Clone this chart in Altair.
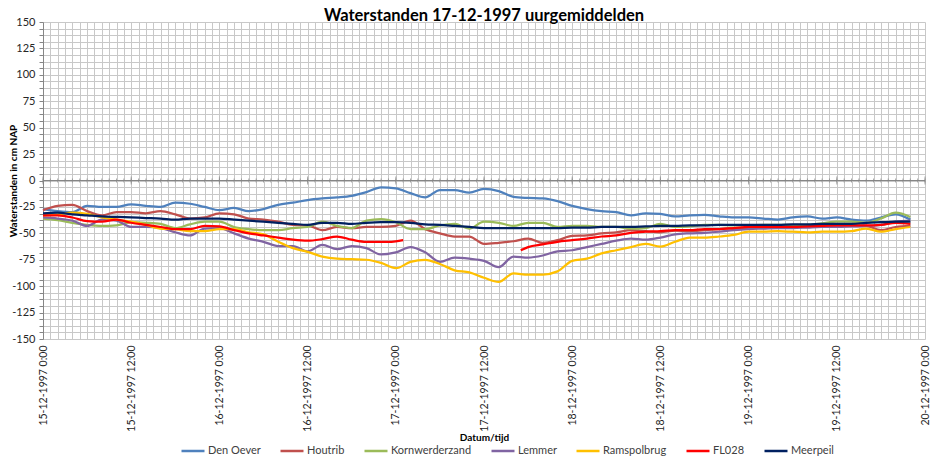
import json
import pandas as pd
import altair as alt

# ---------------- data ----------------
TITLE = "Waterstanden 17-12-1997 uurgemiddelden"
HOURS = list(range(0, 120, 2))  # hours since 15-12-1997 0:00

SERIES = ["Den Oever", "Houtrib", "Kornwerderzand", "Lemmer", "Ramspolbrug", "FL028", "Meerpeil"]
COLORS = ["#4F81BD", "#C0504D", "#9BBB59", "#8064A2", "#FFC000", "#FF0000", "#002060"]

DEN_OEVER = [-27, -29, -30, -24, -25, -25, -22.5, -24, -25, -21,
             -22, -25, -28, -26, -29, -27, -23, -21, -18.5, -17,
             -16, -14.5, -11, -6.5, -7.5, -12, -16, -9, -9, -11.5,
             -8, -10, -15.5, -16.5, -17, -19.5, -24, -27, -29, -30,
             -33, -31, -31.5, -34, -33, -32.5, -34, -35, -35, -36,
             -37, -35, -34, -36, -35, -37, -38, -35, -32, -37]

HOUTRIB = [-28, -24, -23, -29, -33, -30, -30, -31, -29, -32,
           -36, -35, -31, -32, -36, -37, -39, -42, -42.5, -47,
           -44, -45, -44, -44, -43, -38, -46, -50, -53, -53,
           -60, -59, -57.5, -55, -59, -56.5, -52.5, -52, -50, -49,
           -47, -48, -49, -47.5, -48, -47, -46, -45, -45, -44,
           -44, -44, -43.5, -43, -42.5, -42.5, -43, -47, -44, -43]

KORNWERDERZAND = [-36, -37.5, -40, -42, -43, -42.5, -39.5, -40, -41, -45,
                  -41.5, -39, -39, -44, -46, -47, -47, -45, -44, -39,
                  -43, -45, -38, -36.5, -39.5, -46, -46, -42.5, -41, -45.5,
                  -39, -40, -43, -40, -40, -44, -43, -43, -44, -44,
                  -45.5, -45, -41, -44, -43.5, -42, -42, -42.5, -42.5, -42,
                  -42, -42, -42, -40.5, -39, -39, -40, -36, -30.5, -34.5]

LEMMER = [-35, -36, -38, -43, -37, -38, -44, -44, -45, -49,
          -52, -45.5, -45, -50, -55, -58, -62, -62, -67, -61,
          -65, -62, -64, -70, -68, -63, -68, -77, -73, -74,
          -76, -82, -72, -73, -71, -67, -66, -63, -60, -57,
          -55, -56, -54, -51, -50, -49.5, -48.5, -47, -46, -45.5,
          -45, -45, -44.5, -44, -44, -43.5, -43, -42, -39, -38]

RAMSPOLBRUG = [-33, -32, -30.5, -31.5, -35, -37, -39, -42, -45.5, -46,
               -48, -48, -46, -46, -49, -51, -58, -64, -67.5, -72,
               -74, -74.5, -75, -78, -83, -77, -75, -79, -85, -87,
               -92, -96, -88, -89, -89, -86, -76, -74, -69, -66,
               -63, -60, -62.5, -58, -54, -54, -53, -51.5, -48.5, -48.5,
               -48, -48.5, -49, -48.5, -48.5, -48, -45.5, -48.5, -46, -44]

# FL028 has missing hours (gaps in the line)
FL028_HOURS = (list(range(0, 45, 2)) + [47, 48, 49] + [65] + list(range(66, 120, 2)))
FL028 = [-33, -33, -35, -38.5, -39, -37, -40, -42, -44, -46,
         -46, -43, -43.5, -47, -50, -52, -54, -56, -57, -55.5,
         -53, -56, -58,
         -58, -57.5, -56.5,
         -66, -63, -60.5, -58, -56.5, -55, -53, -52, -49.5, -48.5,
         -48, -47, -47, -46, -46, -45, -44, -44, -44, -44,
         -43.5, -43, -42.5, -42.5, -42.5, -42, -40, -41]

MEERPEIL = [-31, -30.5, -32, -33, -34, -34.5, -35, -35.5, -36, -37,
            -36, -36, -36, -37, -38, -39, -40, -41, -42, -40,
            -40, -41, -40, -39.5, -39.5, -40, -41.5, -42, -43, -44,
            -45, -45, -45, -45, -45, -45, -44.5, -44.5, -44, -44,
            -44, -43.5, -43, -43, -42.5, -42.5, -42, -42, -42, -42,
            -42, -41.5, -41.5, -41, -41, -41, -40, -39.5, -39, -39]

TICK_LABELS = ["15-12-1997 0:00", "15-12-1997 12:00", "16-12-1997 0:00", "16-12-1997 12:00",
               "17-12-1997 0:00", "17-12-1997 12:00", "18-12-1997 0:00", "18-12-1997 12:00",
               "19-12-1997 0:00", "19-12-1997 12:00", "20-12-1997 0:00"]

# ---------------- build tables ----------------
rows = []
def add(name, hours, vals):
    seg = 0
    prev = None
    for h, v in zip(hours, vals):
        if prev is not None and h - prev > 3:
            seg += 1
        rows.append({"serie": name, "seg": f"{name}-{seg}", "uur": h, "cm": v})
        prev = h

add("Den Oever", HOURS, DEN_OEVER)
add("Houtrib", HOURS, HOUTRIB)
add("Kornwerderzand", HOURS, KORNWERDERZAND)
add("Lemmer", HOURS, LEMMER)
add("Ramspolbrug", HOURS, RAMSPOLBRUG)
add("FL028", FL028_HOURS, FL028)
add("Meerpeil", HOURS, MEERPEIL)
data = pd.DataFrame(rows)

hour_ticks = pd.DataFrame({"uur": list(range(0, 121)), "cm": [0] * 121})
major_ticks = pd.DataFrame({"uur": list(range(0, 121, 12)), "cm": [0] * 11})
title_df = pd.DataFrame({"t": [TITLE]})

GRID = "#c8c8c8"
AXIS = "#868686"
FONT = "Lato"

xscale = alt.Scale(domain=[0, 120], nice=False, zero=False)
yscale = alt.Scale(domain=[-150, 150], nice=False, zero=False)

y_values = [-150 + 6.25 * k for k in range(49)]
x_label_expr = f"datum.value % 12 == 0 ? {json.dumps(TICK_LABELS)}[datum.value / 12] : ''"

x_axis = alt.Axis(values=list(range(0, 121)), labelExpr=x_label_expr, labelAngle=270,
                  labelFont=FONT, labelFontSize=10.5, labelColor="#262626", labelPadding=6,
                  labelOverlap=False, labelBound=False, labelFlush=False,
                  ticks=False, domain=False, grid=True, gridColor=GRID, gridWidth=1,
                  title="Datum/tijd", titleFont=FONT, titleFontSize=10, titleFontWeight="bold",
                  titleColor="#000000", titleY=98, titleBaseline="middle")

y_axis = alt.Axis(values=y_values, labelExpr="datum.value % 25 == 0 ? '' + datum.value : ''",
                  labelFont=FONT, labelFontSize=11, labelColor="#262626", labelPadding=4,
                  labelOverlap=False, labelBound=False, labelFlush=False,
                  ticks=True, tickSize=4, tickColor=AXIS, domain=True, domainColor=AXIS,
                  grid=True, gridColor=GRID, gridWidth=1,
                  title="Waterstanden in cm NAP", titleFont=FONT, titleFontSize=10,
                  titleFontWeight="bold", titleColor="#000000", titleX=-35, titleY=158.5,
                  titleAngle=270, titleAlign="center", titleBaseline="top")

X = alt.X("uur:Q", scale=xscale, axis=x_axis)
Y = alt.Y("cm:Q", scale=yscale, axis=y_axis)

zero_line = alt.Chart(hour_ticks).mark_rule(color=AXIS, strokeWidth=1).encode(
    y=Y
)

minor = alt.Chart(hour_ticks).mark_tick(orient="vertical", size=4, thickness=1, color=AXIS).encode(
    x=X, y=Y,
)
major = alt.Chart(major_ticks).mark_tick(orient="vertical", size=8, thickness=1, color=AXIS).encode(
    x=X, y=Y,
)

lines = alt.Chart(data).mark_line(strokeWidth=2.25, interpolate="monotone").encode(
    x=X,
    y=Y,
    color=alt.Color("serie:N", scale=alt.Scale(domain=SERIES, range=COLORS),
                    sort=SERIES,
                    legend=alt.Legend(orient="none", legendX=137, legendY=416,
                                      direction="horizontal", title=None,
                                      symbolType="stroke", symbolSize=529,
                                      symbolStrokeWidth=2.5, labelFont=FONT,
                                      labelFontSize=11, labelColor="#404040",
                                      labelOffset=2, columnPadding=14)),
    detail="seg:N",
    order=alt.Order("uur:Q"),
)

title_text = alt.Chart(title_df).mark_text(
    font=FONT, fontSize=16.5, fontWeight="bold", color="#000000",
    align="center", baseline="alphabetic"
).encode(x=alt.value(441), y=alt.value(-1), text="t:N")

chart = alt.layer(zero_line, minor, major, lines, title_text).properties(
    width=882, height=317,
    autosize=alt.AutoSizeParams(type="none"),
    padding={"left": 35, "top": 14, "right": 8, "bottom": 119},
).configure(font=FONT).configure_view(stroke="transparent")

chart.save("out.html", embed_options={"renderer": "svg", "actions": False})
